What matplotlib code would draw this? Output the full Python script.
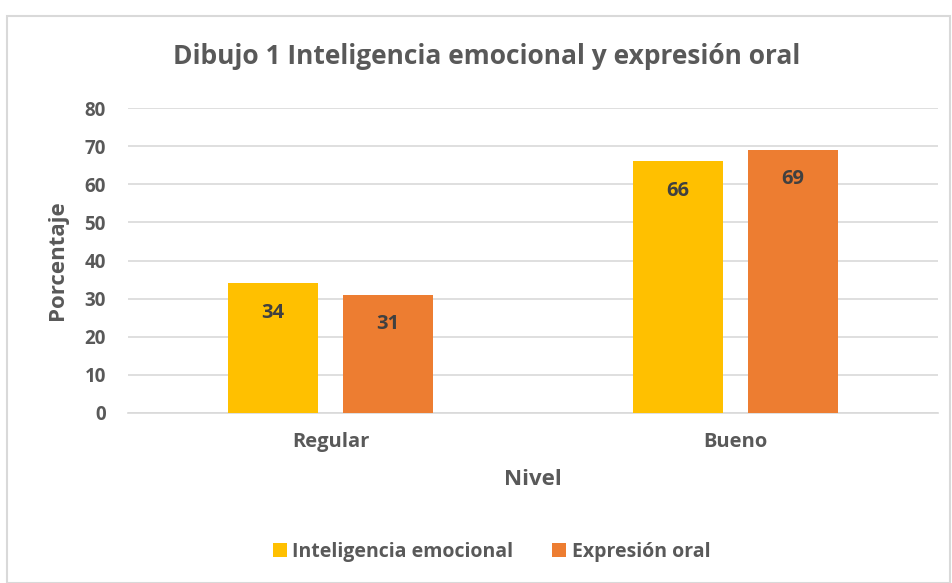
import matplotlib
matplotlib.use('Agg')
import matplotlib.pyplot as plt
from matplotlib.patches import Rectangle
import numpy as np

# Data
niveles = ['Regular', 'Bueno']
inteligencia = [34, 66]
expresion = [31, 69]
series_names = ['Inteligencia emocional', 'Expresión oral']
colors = ['#FFC000', '#ED7D31']
text_color = '#595959'

plt.rcParams['font.family'] = ['Open Sans', 'DejaVu Sans']
plt.rcParams['font.weight'] = 'bold'

fig = plt.figure(figsize=(9.53, 5.83), dpi=100)
W, H = 953, 583
ax = fig.add_axes([128 / W, 1 - 413 / H, (938 - 128) / W, (413 - 108) / H])

x = np.arange(len(niveles))
width = 0.222
offset = 0.142
bars1 = ax.bar(x - offset, inteligencia, width, color=colors[0], label=series_names[0], zorder=3)
bars2 = ax.bar(x + offset, expresion, width, color=colors[1], label=series_names[1], zorder=3)

for bars in (bars1, bars2):
    for b in bars:
        ax.annotate(f'{b.get_height():.0f}', (b.get_x() + b.get_width() / 2, b.get_height()),
                    xytext=(0, -14), textcoords='offset points', ha='center', va='top',
                    fontsize=14.5, fontweight='bold', color='#404040', zorder=4)

ax.set_xlim(-0.5, 1.5)
ax.set_ylim(0, 80)
ax.set_yticks(range(0, 81, 10))
ax.set_xticks(x)
ax.set_xticklabels(niveles)
ax.yaxis.grid(True, color='#D9D9D9', linewidth=1.2, zorder=0)
ax.set_axisbelow(True)
for s in ['top', 'right', 'left']:
    ax.spines[s].set_visible(False)
ax.spines['bottom'].set_color('#D9D9D9')
ax.spines['bottom'].set_linewidth(1.2)
ax.tick_params(axis='y', length=0, labelsize=13.5, labelcolor=text_color, pad=16)
ax.tick_params(axis='x', length=0, labelsize=14.5, labelcolor=text_color, pad=14)

ax.set_ylabel('Porcentaje', fontsize=16, fontweight='bold', color=text_color, labelpad=12)
ax.set_xlabel('Nivel', fontsize=16, fontweight='bold', color=text_color, labelpad=12)

fig.text(0.511, 1 - 57 / H, 'Dibujo 1 Inteligencia emocional y expresión oral',
         ha='center', va='center', fontsize=19, fontweight='bold', color=text_color)

leg = fig.legend(loc='center', bbox_to_anchor=(0.516, 1 - 552 / H), ncol=2, frameon=False,
                 fontsize=14, handlelength=0.7, handleheight=0.7, handletextpad=0.3,
                 columnspacing=2.0)
for t in leg.get_texts():
    t.set_color(text_color)

# chart border
fig.patches.append(Rectangle((7 / W, 0), (W - 10) / W, 1 - 16 / H, transform=fig.transFigure,
                             fill=False, edgecolor='#D9D9D9', linewidth=1.5))

fig.savefig('out.png', dpi=100)
